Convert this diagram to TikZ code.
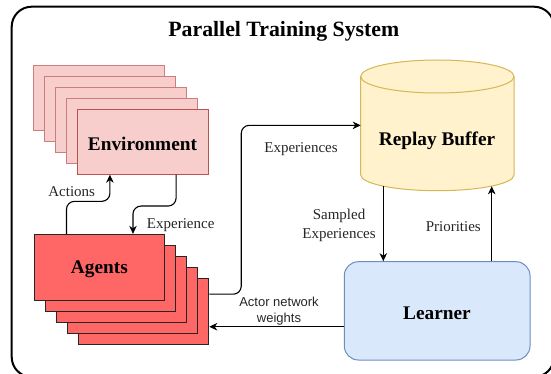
\documentclass[tikz,border=0pt]{standalone}
\usepackage{fontspec}
\setmainfont{Liberation Serif}
\newfontfamily\lsans{Liberation Sans}
\usetikzlibrary{arrows.meta,calc}
\definecolor{envfill}{HTML}{F8CECC}
\definecolor{envdraw}{HTML}{B85450}
\definecolor{agfill}{HTML}{FF6666}
\definecolor{agdraw}{HTML}{262626}
\definecolor{rbfill}{HTML}{FFF2CC}
\definecolor{rbdraw}{HTML}{D6B656}
\definecolor{lnfill}{HTML}{DAE8FC}
\definecolor{lndraw}{HTML}{6C8EBF}
\tikzset{
  envbox/.style={rectangle, fill=envfill, draw=envdraw, line width=1pt, minimum width=131.4pt, minimum height=65pt, inner sep=0pt},
  envback/.style={envbox, draw=envdraw!75},
  agbox/.style={rectangle, fill=agfill, draw=agdraw, line width=1pt, minimum width=130.7pt, minimum height=65.7pt, inner sep=0pt},
  lnbox/.style={rectangle, rounded corners=14pt, fill=lnfill, draw=lndraw, line width=1pt, minimum width=185.7pt, minimum height=98.3pt, inner sep=0pt},
  boldtxt/.style={font=\fontsize{19.3}{23}\selectfont\bfseries, inner sep=0pt},
  lbl/.style={font=\fontsize{15}{18.3}\selectfont, align=center, text=black!85, inner sep=0pt},
  sanslbl/.style={font=\lsans\fontsize{13}{16}\selectfont, align=center, text=black!85, inner sep=0pt},
  arr/.style={line width=1.1pt, -{Stealth[length=8pt, width=7.5pt, inset=2.5pt]}},
}
\begin{document}
\begin{tikzpicture}[x=1pt, y=-1pt]
\useasboundingbox (0,0) rectangle (551,374);
\clip (0,0) rectangle (551,374);
% outer frame
\draw[line width=2pt, rounded corners=20pt] (11.7,6.7) rectangle (554,377);
\node[font=\fontsize{21.8}{26}\selectfont\bfseries, inner sep=0pt] (title) at (283.8,31.5) {Parallel Training System};

% environment stack
\node[envback] (e1) at (99,97.7) {};
\node[envback] (e2) at (110,108.7) {};
\node[envback] (e3) at (121,119.7) {};
\node[envback] (e4) at (132,130.7) {};
\node[envbox] (e5) at (143,141.7) {};
\node[boldtxt] (e5t) at (142.5,144) {Environment};

% agents stack
\node[agbox] (a5) at (143.4,311.2) {};
\node[agbox] (a4) at (132.4,300.2) {};
\node[agbox] (a3) at (121.4,289.2) {};
\node[agbox] (a2) at (110.4,278.2) {};
\node[agbox] (a1) at (99.4,267.2) {};
\node[boldtxt] (a1t) at (99.4,269.5) {Agents};

% replay buffer cylinder
\path[fill=rbfill, draw=rbdraw, line width=1pt] (360.7,76.5) -- (360.7,175)
  arc[start angle=180, end angle=360, x radius=76.65pt, y radius=15.7pt]
  -- (514,76.5)
  arc[start angle=0, end angle=180, x radius=76.65pt, y radius=16.5pt] -- cycle;
\draw[draw=rbdraw, line width=1pt] (360.7,76.5)
  arc[start angle=180, end angle=360, x radius=76.65pt, y radius=16.5pt];
\node[minimum width=153.3pt, minimum height=130.7pt, inner sep=0pt, outer sep=0pt] (rb) at (437.35,125.35) {};
\node[boldtxt] (rbt) at (437,141) {Replay Buffer};

% learner
\node[lnbox] (ln) at (437.15,310.85) {};
\node[boldtxt] (lnt) at (437,313.3) {Learner};

% connectors
\coordinate (acts) at ($(a1.north west)!0.25!(a1.north east)$);
\coordinate (acte) at ($(e5.south west)!0.25!(e5.south east)$);
\draw[arr, rounded corners=8pt] (acts) |- ($(acts)!0.55!(acte)$) -| (acte);
\coordinate (exps) at ($(e5.south west)!0.75!(e5.south east)$);
\coordinate (expe) at ($(a1.north west)!0.755!(a1.north east)$);
\draw[arr, rounded corners=8pt] (exps) |- ($(exps)!0.53!(expe)$) -| (expe);

\coordinate (exs) at ($(a5.north east)!0.245!(a5.south east)$);
\draw[arr, rounded corners=8pt] (exs) -- ++(32,0) |- (rb.west);

\coordinate (sps) at (383.3,186.1);
\draw[arr] (sps) -- (sps |- ln.north);
\coordinate (prs) at (491.7,186.3);
\draw[arr] (prs |- ln.north) -- (prs);

\coordinate (aws) at ($(ln.north west)!0.66!(ln.south west)$);
\draw[arr] (aws) -- (aws -| a5.east);

% labels
\node[lbl] (lact) at (71.7,192) {Actions};
\node[lbl] (lexp) at (180.7,225.3) {Experience};
\node[lbl] (lexps) at (301,149.3) {Experiences};
\node[lbl] (lsamp) at (339,225.5) {Sampled\\Experiences};
\node[lbl] (lprio) at (453.3,227) {Priorities};
\node[sanslbl] (lact2) at (279,311) {Actor network\\weights};
\end{tikzpicture}
\end{document}
